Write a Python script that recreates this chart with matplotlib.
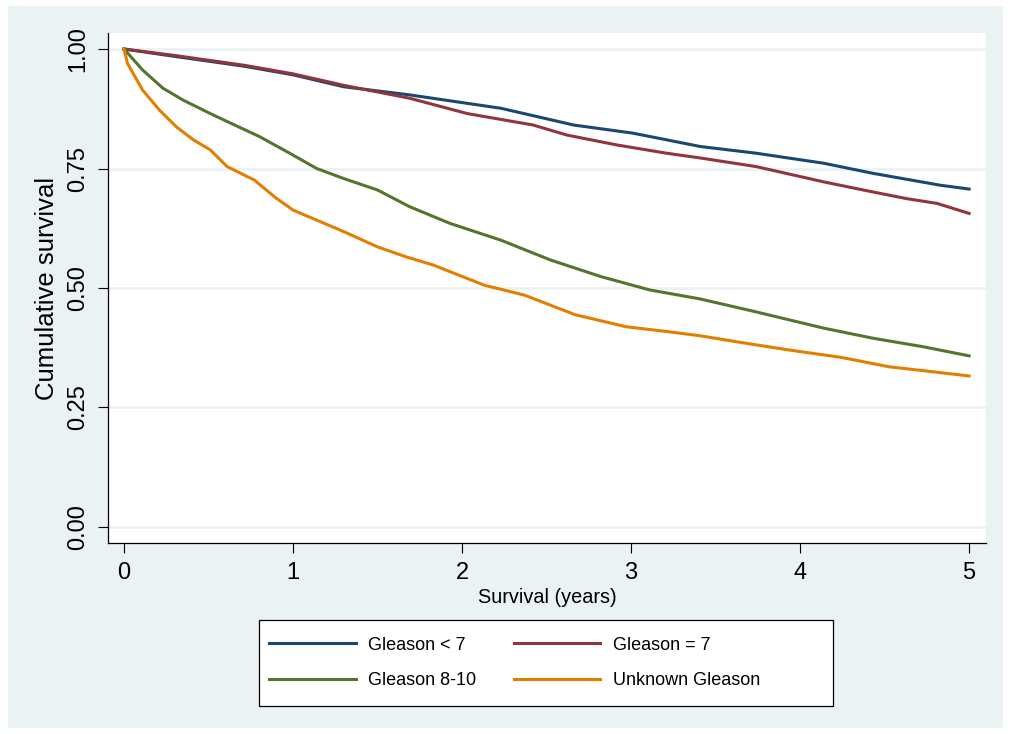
import matplotlib
matplotlib.use("Agg")
import matplotlib.pyplot as plt
from matplotlib.patches import Rectangle

plt.rcParams['font.family'] = ['Liberation Sans', 'DejaVu Sans']

# Kaplan-Meier curves (years, cumulative survival)
blue_x = [0, 0.31, 0.71, 1.0, 1.30, 1.69, 2.23, 2.66, 3.01, 3.41, 3.74, 4.14, 4.43, 4.83, 5.0]
blue_y = [1.0, 0.984, 0.964, 0.946, 0.921, 0.904, 0.876, 0.841, 0.824, 0.796, 0.782, 0.761, 0.740, 0.715, 0.707]

red_x = [0, 0.31, 0.71, 1.0, 1.30, 1.69, 2.03, 2.42, 2.62, 2.92, 3.21, 3.41, 3.74, 4.14, 4.43, 4.63, 4.81, 5.0]
red_y = [1.0, 0.986, 0.966, 0.948, 0.924, 0.897, 0.865, 0.841, 0.820, 0.799, 0.782, 0.772, 0.754, 0.722, 0.701, 0.687, 0.677, 0.656]

green_x = [0, 0.11, 0.23, 0.35, 0.51, 0.63, 0.80, 0.98, 1.14, 1.30, 1.50, 1.69, 1.93, 2.23, 2.52, 2.82, 3.11, 3.41,
           3.74, 4.14, 4.43, 4.73, 5.0]
green_y = [1.0, 0.956, 0.918, 0.893, 0.865, 0.845, 0.817, 0.782, 0.750, 0.729, 0.705, 0.670, 0.635, 0.600, 0.559,
           0.524, 0.496, 0.477, 0.450, 0.416, 0.395, 0.377, 0.358]

orange_x = [0, 0.02, 0.11, 0.21, 0.31, 0.41, 0.51, 0.61, 0.77, 0.90, 1.0, 1.14, 1.30, 1.50, 1.67, 1.83, 2.13, 2.37,
            2.67, 2.97, 3.21, 3.41, 3.65, 3.94, 4.24, 4.53, 4.73, 5.0]
orange_y = [1.0, 0.97, 0.914, 0.872, 0.837, 0.810, 0.789, 0.754, 0.726, 0.688, 0.663, 0.642, 0.618, 0.586, 0.565,
            0.548, 0.506, 0.485, 0.444, 0.419, 0.409, 0.400, 0.386, 0.370, 0.355, 0.335, 0.327, 0.316]

labels = ["Gleason < 7", "Gleason = 7", "Gleason 8-10", "Unknown Gleason"]
colors = ["#1a476f", "#90353b", "#55752f", "#e37e00"]

xticks = [0, 1, 2, 3, 4, 5]
yticks = [0.0, 0.25, 0.5, 0.75, 1.0]
ytick_labels = ["0.00", "0.25", "0.50", "0.75", "1.00"]

W, H = 1011, 734
bg = "#eaf2f3"

fig = plt.figure(figsize=(W / 100, H / 100), dpi=100, facecolor="white")
fig.patches.append(Rectangle((8 / W, 6 / H), (1003 - 8) / W, (728 - 6) / H,
                             transform=fig.transFigure, facecolor=bg, edgecolor="none", zorder=-10))

ax = fig.add_axes([108 / W, 1 - 543 / H, (986 - 108) / W, (543 - 33) / H])
ax.set_facecolor("white")

lines = []
for xs, ys, c, lab in zip([blue_x, red_x, green_x, orange_x], [blue_y, red_y, green_y, orange_y], colors, labels):
    ln, = ax.plot(xs, ys, color=c, lw=2.2, label=lab, zorder=3)
    lines.append(ln)

ax.set_xlim(-0.095, 5.10)
ax.set_ylim(-0.0335, 1.0335)
ax.set_xticks(xticks)
ax.set_yticks(yticks)
ax.set_yticklabels(ytick_labels, rotation=90, va="center", ha="right")
ax.tick_params(axis="both", direction="out", length=7.5, width=0.8, labelsize=17, pad=6)
ax.yaxis.grid(True, color=bg, lw=2.0, zorder=1)
ax.set_axisbelow(True)

for side in ["top", "right"]:
    ax.spines[side].set_visible(False)
for side in ["left", "bottom"]:
    ax.spines[side].set_linewidth(0.9)

ax.set_ylabel("Cumulative survival", fontsize=18.5, labelpad=6)
ax.set_xlabel("Survival (years)", fontsize=14.3, labelpad=3)

# legend box (Stata style, wider than its contents)
fig.patches.append(Rectangle((259 / W, 1 - 706 / H), (833 - 259) / W, (706 - 620) / H,
                             transform=fig.transFigure, facecolor="white", edgecolor="black", lw=0.9, zorder=1))
order = [0, 2, 1, 3]
leg = fig.legend([lines[i] for i in order], [labels[i] for i in order], ncol=2, frameon=False,
                 loc="center left", bbox_to_anchor=(260 / W, 1 - 663 / H), fontsize=13,
                 handlelength=4.8, handletextpad=0.67, columnspacing=2.1, labelspacing=1.05, borderpad=0)
leg.set_zorder(2)

fig.savefig("out.png", dpi=100, facecolor="white")
